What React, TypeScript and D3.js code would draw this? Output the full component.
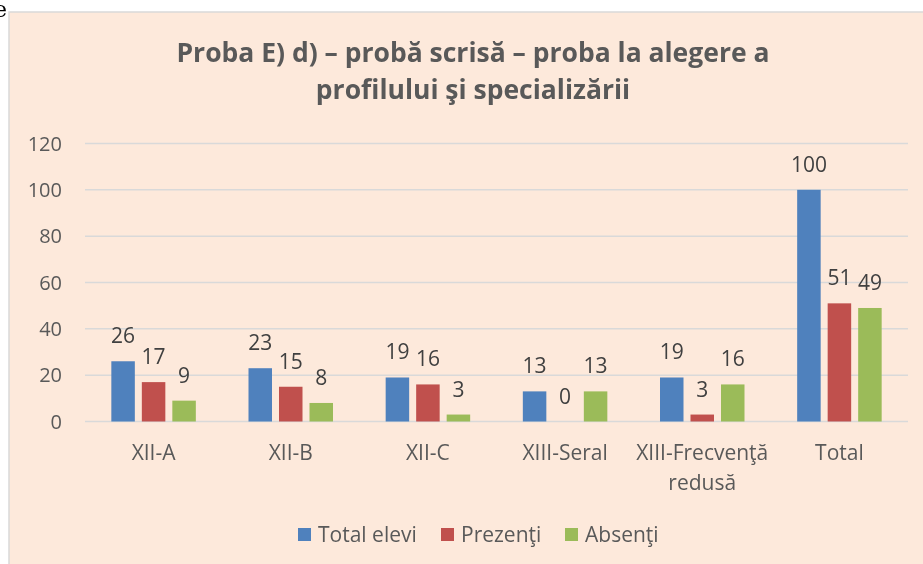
import React from "react";
import * as d3 from "d3";

const categories = ["XII-A", "XII-B", "XII-C", "XIII-Seral", "XIII-Frecvenţă redusă", "Total"];
const categoryLines = [["XII-A"], ["XII-B"], ["XII-C"], ["XIII-Seral"], ["XIII-Frecvenţă", "redusă"], ["Total"]];
const seriesNames = ["Total elevi", "Prezenţi", "Absenţi"];
const totalElevi = [26, 23, 19, 13, 19, 100];
const prezenti = [17, 15, 16, 0, 3, 51];
const absenti = [9, 8, 3, 13, 16, 49];
const yTicks = [0, 20, 40, 60, 80, 100, 120];
const titleLines = ["Proba E) d) – probă scrisă – proba la alegere a", "profilului şi specializării"];

const colors = ["#4f81bd", "#c0504d", "#9bbb59"];
const textColor = "#595959";
const font = "'Open Sans', sans-serif";

export default function App() {
  const W = 923, H = 564;
  const left = 85, right = 908, top = 143.5, bottom = 421.5;
  const values = [totalElevi, prezenti, absenti];

  const x0 = d3.scaleBand<string>().domain(categories).range([left, right]).paddingInner(0).paddingOuter(0);
  const groupW = 91.5;
  const x1 = d3.scaleBand<string>().domain(seriesNames).range([0, groupW]).paddingInner(7 / 30.5).paddingOuter(3.5 / 30.5);
  const y = d3.scaleLinear().domain([0, 120]).range([bottom, top]);
  const off = (x0.bandwidth() - groupW) / 2;

  const legendX = [298, 441, 565];

  return (
    <svg width={W} height={H} style={{ position: "fixed", left: 0, top: 0 }} xmlns="http://www.w3.org/2000/svg">
      <rect x={0} y={0} width={W} height={H} fill="#ffffff" />
      <text x={-6} y={17} fontFamily="'DejaVu Serif', serif" fontSize={22} fill="#000">e</text>
      <rect x={9} y={12} width={W + 10} height={H + 10} fill="#fde9db" stroke="#d9d9d9" strokeWidth={1.5} />
      {titleLines.map((t, i) => (
        <text key={i} x={473} y={62 + i * 36.5} textAnchor="middle" fontFamily={font} fontWeight={700} fontSize={26.5} fill={textColor}>{t}</text>
      ))}
      {yTicks.map((t) => (
        <g key={t}>
          <line x1={left} x2={right} y1={y(t)} y2={y(t)} stroke="#d9d9d9" strokeWidth={1.5} />
          <text x={62} y={y(t)} dy="0.36em" textAnchor="end" fontFamily={font} fontSize={20} fill={textColor}>{t}</text>
        </g>
      ))}
      {categories.map((c, ci) => (
        <g key={c}>
          {seriesNames.map((s, si) => {
            const v = values[si][ci];
            const bx = (x0(c) as number) + off + (x1(s) as number);
            const bw = x1.bandwidth();
            return (
              <g key={s}>
                <rect x={bx} y={y(v)} width={bw} height={y(0) - y(v)} fill={colors[si]} />
                <text x={bx + bw / 2} y={y(v) - 18} textAnchor="middle" fontFamily={font} fontSize={21} fill="#404040">{v}</text>
              </g>
            );
          })}
          {categoryLines[ci].map((ln, li) => (
            <text key={li} x={(x0(c) as number) + x0.bandwidth() / 2} y={460 + li * 30} textAnchor="middle" fontFamily={font} fontSize={21} fill={textColor}>{ln}</text>
          ))}
        </g>
      ))}
      {seriesNames.map((s, si) => (
        <g key={s}>
          <rect x={legendX[si]} y={528} width={13} height={13} fill={colors[si]} />
          <text x={legendX[si] + 20} y={542} fontFamily={font} fontSize={21} fill={textColor}>{s}</text>
        </g>
      ))}
    </svg>
  );
}
